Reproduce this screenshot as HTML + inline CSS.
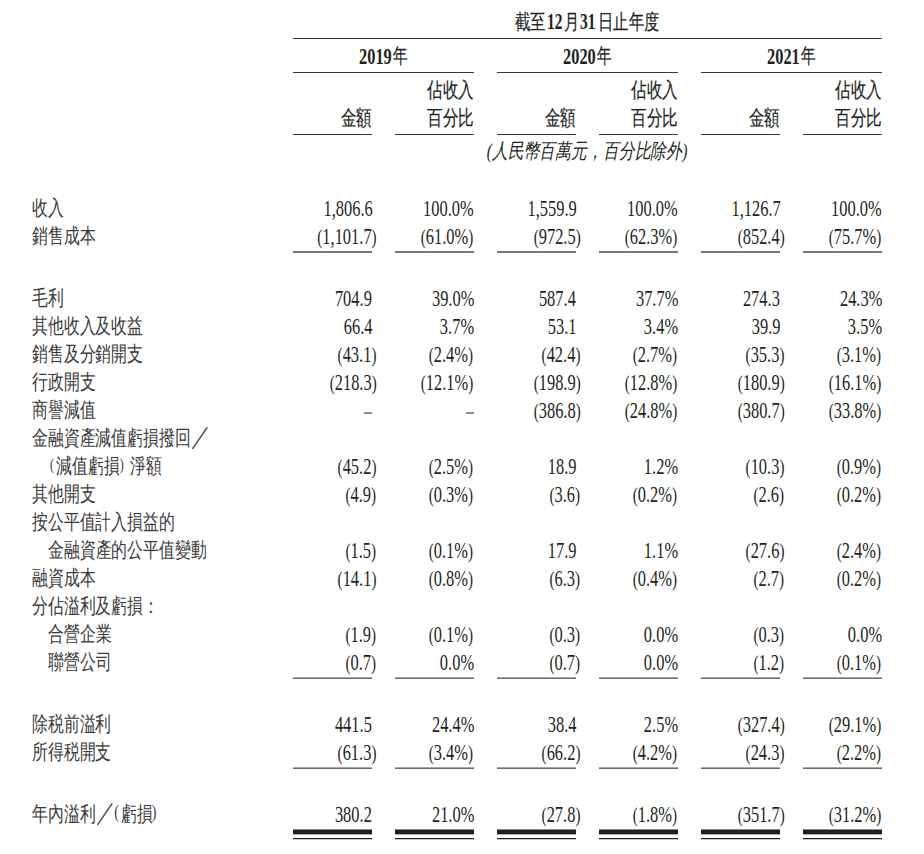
<!DOCTYPE html>
<html lang="zh-Hant"><head><meta charset="utf-8"><style>
html,body{margin:0;padding:0;background:#fff;width:924px;height:854px;overflow:hidden}
body{position:relative;font-family:"Liberation Serif",serif;color:#231f20}
.t{position:absolute;white-space:nowrap;line-height:24px}
.b{font-weight:bold}
.np{font-size:20.8px;line-height:0}
.lab{color:#3c393a}
.hs{-webkit-text-stroke:0.2px #231f20}
.it{font-style:italic}
.pp{font-size:16px;position:relative;top:-3.6px}
.sl{font-size:26px;line-height:0;position:relative;top:-0.5px;margin-left:0.9px;margin-right:-2px}
.pq{font-size:18.5px;line-height:0;position:relative;top:-2.9px}
i{position:absolute;display:block}
</style></head><body>
<div class="t hs" style="left:515.00px;top:10.28px;font-size:20.8px;transform:scaleX(0.73);transform-origin:left top">截至</div>
<div class="t b" style="left:547.30px;top:10.27px;font-size:22.6px;transform:scaleX(0.685);transform-origin:left top">12</div>
<div class="t hs" style="left:564.00px;top:10.28px;font-size:20.8px;transform:scaleX(0.73);transform-origin:left top">月</div>
<div class="t b" style="left:579.80px;top:10.27px;font-size:22.6px;transform:scaleX(0.685);transform-origin:left top">31</div>
<div class="t hs" style="left:598.20px;top:10.28px;font-size:20.8px;transform:scaleX(0.73);transform-origin:left top">日止年度</div>
<i style="left:293px;width:589px;top:38px;height:1px;background:#3a3536"></i>
<div class="t b" style="left:358.60px;top:44.87px;font-size:22.6px;transform:scaleX(0.725);transform-origin:left top">2019</div>
<div class="t hs" style="left:392.60px;top:44.08px;font-size:20.8px;transform:scaleX(0.69);transform-origin:left top">年</div>
<i style="left:293px;width:181px;top:72px;height:1px;background:#3a3536"></i>
<div class="t hs" style="right:552.00px;top:105.98px;font-size:20.8px;transform:scaleX(0.74);transform-origin:right top">金額</div>
<div class="t hs" style="right:450.00px;top:77.98px;font-size:20.8px;transform:scaleX(0.74);transform-origin:right top">佔收入</div>
<div class="t hs" style="right:450.00px;top:105.98px;font-size:20.8px;transform:scaleX(0.74);transform-origin:right top">百分比</div>
<i style="left:293px;width:79px;top:134px;height:1px;background:#3a3536"></i>
<i style="left:395px;width:79px;top:134px;height:1px;background:#3a3536"></i>
<div class="t b" style="left:562.60px;top:44.87px;font-size:22.6px;transform:scaleX(0.725);transform-origin:left top">2020</div>
<div class="t hs" style="left:596.60px;top:44.08px;font-size:20.8px;transform:scaleX(0.69);transform-origin:left top">年</div>
<i style="left:497px;width:181px;top:72px;height:1px;background:#3a3536"></i>
<div class="t hs" style="right:348.00px;top:105.98px;font-size:20.8px;transform:scaleX(0.74);transform-origin:right top">金額</div>
<div class="t hs" style="right:246.00px;top:77.98px;font-size:20.8px;transform:scaleX(0.74);transform-origin:right top">佔收入</div>
<div class="t hs" style="right:246.00px;top:105.98px;font-size:20.8px;transform:scaleX(0.74);transform-origin:right top">百分比</div>
<i style="left:497px;width:79px;top:134px;height:1px;background:#3a3536"></i>
<i style="left:599px;width:79px;top:134px;height:1px;background:#3a3536"></i>
<div class="t b" style="left:766.60px;top:44.87px;font-size:22.6px;transform:scaleX(0.725);transform-origin:left top">2021</div>
<div class="t hs" style="left:800.60px;top:44.08px;font-size:20.8px;transform:scaleX(0.69);transform-origin:left top">年</div>
<i style="left:701px;width:181px;top:72px;height:1px;background:#3a3536"></i>
<div class="t hs" style="right:144.00px;top:105.98px;font-size:20.8px;transform:scaleX(0.74);transform-origin:right top">金額</div>
<div class="t hs" style="right:42.00px;top:77.98px;font-size:20.8px;transform:scaleX(0.74);transform-origin:right top">佔收入</div>
<div class="t hs" style="right:42.00px;top:105.98px;font-size:20.8px;transform:scaleX(0.74);transform-origin:right top">百分比</div>
<i style="left:701px;width:79px;top:134px;height:1px;background:#3a3536"></i>
<i style="left:803px;width:79px;top:134px;height:1px;background:#3a3536"></i>
<div class="t it" style="left:586.50px;top:138.98px;font-size:20.8px;transform:translateX(-50%) scaleX(0.755);transform-origin:center top">(人民幣百萬元，百分比除外)</div>
<div class="t lab" style="left:32.00px;top:196.23px;font-size:20.8px;transform:scaleX(0.755);transform-origin:left top">收入</div>
<div class="t" style="right:551.70px;top:196.87px;font-size:22.6px;transform:scaleX(0.727);transform-origin:right top">1,806.6</div>
<div class="t" style="right:450.00px;top:196.87px;font-size:22.6px;transform:scaleX(0.727);transform-origin:right top">100.0%</div>
<div class="t" style="right:347.70px;top:196.87px;font-size:22.6px;transform:scaleX(0.727);transform-origin:right top">1,559.9</div>
<div class="t" style="right:246.00px;top:196.87px;font-size:22.6px;transform:scaleX(0.727);transform-origin:right top">100.0%</div>
<div class="t" style="right:143.70px;top:196.87px;font-size:22.6px;transform:scaleX(0.727);transform-origin:right top">1,126.7</div>
<div class="t" style="right:42.00px;top:196.87px;font-size:22.6px;transform:scaleX(0.727);transform-origin:right top">100.0%</div>
<div class="t lab" style="left:32.00px;top:224.23px;font-size:20.8px;transform:scaleX(0.755);transform-origin:left top">銷售成本</div>
<div class="t" style="right:547.50px;top:224.87px;font-size:22.6px;transform:scaleX(0.727);transform-origin:right top"><span class="np">(</span>1,101.7<span class="np">)</span></div>
<div class="t" style="right:450.70px;top:224.87px;font-size:22.6px;transform:scaleX(0.727);transform-origin:right top"><span class="np">(</span>61.0%<span class="np">)</span></div>
<div class="t" style="right:343.50px;top:224.87px;font-size:22.6px;transform:scaleX(0.727);transform-origin:right top"><span class="np">(</span>972.5<span class="np">)</span></div>
<div class="t" style="right:246.70px;top:224.87px;font-size:22.6px;transform:scaleX(0.727);transform-origin:right top"><span class="np">(</span>62.3%<span class="np">)</span></div>
<div class="t" style="right:139.50px;top:224.87px;font-size:22.6px;transform:scaleX(0.727);transform-origin:right top"><span class="np">(</span>852.4<span class="np">)</span></div>
<div class="t" style="right:42.70px;top:224.87px;font-size:22.6px;transform:scaleX(0.727);transform-origin:right top"><span class="np">(</span>75.7%<span class="np">)</span></div>
<div class="t lab" style="left:32.00px;top:286.23px;font-size:20.8px;transform:scaleX(0.755);transform-origin:left top">毛利</div>
<div class="t" style="right:551.70px;top:286.87px;font-size:22.6px;transform:scaleX(0.727);transform-origin:right top">704.9</div>
<div class="t" style="right:450.00px;top:286.87px;font-size:22.6px;transform:scaleX(0.727);transform-origin:right top">39.0%</div>
<div class="t" style="right:347.70px;top:286.87px;font-size:22.6px;transform:scaleX(0.727);transform-origin:right top">587.4</div>
<div class="t" style="right:246.00px;top:286.87px;font-size:22.6px;transform:scaleX(0.727);transform-origin:right top">37.7%</div>
<div class="t" style="right:143.70px;top:286.87px;font-size:22.6px;transform:scaleX(0.727);transform-origin:right top">274.3</div>
<div class="t" style="right:42.00px;top:286.87px;font-size:22.6px;transform:scaleX(0.727);transform-origin:right top">24.3%</div>
<div class="t lab" style="left:32.00px;top:314.23px;font-size:20.8px;transform:scaleX(0.755);transform-origin:left top">其他收入及收益</div>
<div class="t" style="right:551.70px;top:314.87px;font-size:22.6px;transform:scaleX(0.727);transform-origin:right top">66.4</div>
<div class="t" style="right:450.00px;top:314.87px;font-size:22.6px;transform:scaleX(0.727);transform-origin:right top">3.7%</div>
<div class="t" style="right:347.70px;top:314.87px;font-size:22.6px;transform:scaleX(0.727);transform-origin:right top">53.1</div>
<div class="t" style="right:246.00px;top:314.87px;font-size:22.6px;transform:scaleX(0.727);transform-origin:right top">3.4%</div>
<div class="t" style="right:143.70px;top:314.87px;font-size:22.6px;transform:scaleX(0.727);transform-origin:right top">39.9</div>
<div class="t" style="right:42.00px;top:314.87px;font-size:22.6px;transform:scaleX(0.727);transform-origin:right top">3.5%</div>
<div class="t lab" style="left:32.00px;top:342.23px;font-size:20.8px;transform:scaleX(0.755);transform-origin:left top">銷售及分銷開支</div>
<div class="t" style="right:547.50px;top:342.87px;font-size:22.6px;transform:scaleX(0.727);transform-origin:right top"><span class="np">(</span>43.1<span class="np">)</span></div>
<div class="t" style="right:450.70px;top:342.87px;font-size:22.6px;transform:scaleX(0.727);transform-origin:right top"><span class="np">(</span>2.4%<span class="np">)</span></div>
<div class="t" style="right:343.50px;top:342.87px;font-size:22.6px;transform:scaleX(0.727);transform-origin:right top"><span class="np">(</span>42.4<span class="np">)</span></div>
<div class="t" style="right:246.70px;top:342.87px;font-size:22.6px;transform:scaleX(0.727);transform-origin:right top"><span class="np">(</span>2.7%<span class="np">)</span></div>
<div class="t" style="right:139.50px;top:342.87px;font-size:22.6px;transform:scaleX(0.727);transform-origin:right top"><span class="np">(</span>35.3<span class="np">)</span></div>
<div class="t" style="right:42.70px;top:342.87px;font-size:22.6px;transform:scaleX(0.727);transform-origin:right top"><span class="np">(</span>3.1%<span class="np">)</span></div>
<div class="t lab" style="left:32.00px;top:370.23px;font-size:20.8px;transform:scaleX(0.755);transform-origin:left top">行政開支</div>
<div class="t" style="right:547.50px;top:370.87px;font-size:22.6px;transform:scaleX(0.727);transform-origin:right top"><span class="np">(</span>218.3<span class="np">)</span></div>
<div class="t" style="right:450.70px;top:370.87px;font-size:22.6px;transform:scaleX(0.727);transform-origin:right top"><span class="np">(</span>12.1%<span class="np">)</span></div>
<div class="t" style="right:343.50px;top:370.87px;font-size:22.6px;transform:scaleX(0.727);transform-origin:right top"><span class="np">(</span>198.9<span class="np">)</span></div>
<div class="t" style="right:246.70px;top:370.87px;font-size:22.6px;transform:scaleX(0.727);transform-origin:right top"><span class="np">(</span>12.8%<span class="np">)</span></div>
<div class="t" style="right:139.50px;top:370.87px;font-size:22.6px;transform:scaleX(0.727);transform-origin:right top"><span class="np">(</span>180.9<span class="np">)</span></div>
<div class="t" style="right:42.70px;top:370.87px;font-size:22.6px;transform:scaleX(0.727);transform-origin:right top"><span class="np">(</span>16.1%<span class="np">)</span></div>
<div class="t lab" style="left:32.00px;top:398.23px;font-size:20.8px;transform:scaleX(0.755);transform-origin:left top">商譽減值</div>
<i style="left:364px;width:8px;top:412px;height:2px;background:#8f8c8d"></i>
<i style="left:466px;width:8px;top:412px;height:2px;background:#8f8c8d"></i>
<div class="t" style="right:343.50px;top:398.87px;font-size:22.6px;transform:scaleX(0.727);transform-origin:right top"><span class="np">(</span>386.8<span class="np">)</span></div>
<div class="t" style="right:246.70px;top:398.87px;font-size:22.6px;transform:scaleX(0.727);transform-origin:right top"><span class="np">(</span>24.8%<span class="np">)</span></div>
<div class="t" style="right:139.50px;top:398.87px;font-size:22.6px;transform:scaleX(0.727);transform-origin:right top"><span class="np">(</span>380.7<span class="np">)</span></div>
<div class="t" style="right:42.70px;top:398.87px;font-size:22.6px;transform:scaleX(0.727);transform-origin:right top"><span class="np">(</span>33.8%<span class="np">)</span></div>
<div class="t lab" style="left:32.00px;top:426.23px;font-size:20.8px;transform:scaleX(0.755);transform-origin:left top">金融資產減值虧損撥回<span class="sl">／</span></div>
<div class="t lab" style="left:48.00px;top:454.23px;font-size:20.8px;transform:scaleX(0.755);transform-origin:left top"><span class="pp" style="margin-left:2.8px">(</span><span style="margin-left:2.6px">減值虧損</span><span class="pp" style="margin-left:0.3px">)</span><span style="margin-left:7.8px">淨額</span></div>
<div class="t" style="right:547.50px;top:454.87px;font-size:22.6px;transform:scaleX(0.727);transform-origin:right top"><span class="np">(</span>45.2<span class="np">)</span></div>
<div class="t" style="right:450.70px;top:454.87px;font-size:22.6px;transform:scaleX(0.727);transform-origin:right top"><span class="np">(</span>2.5%<span class="np">)</span></div>
<div class="t" style="right:347.70px;top:454.87px;font-size:22.6px;transform:scaleX(0.727);transform-origin:right top">18.9</div>
<div class="t" style="right:246.00px;top:454.87px;font-size:22.6px;transform:scaleX(0.727);transform-origin:right top">1.2%</div>
<div class="t" style="right:139.50px;top:454.87px;font-size:22.6px;transform:scaleX(0.727);transform-origin:right top"><span class="np">(</span>10.3<span class="np">)</span></div>
<div class="t" style="right:42.70px;top:454.87px;font-size:22.6px;transform:scaleX(0.727);transform-origin:right top"><span class="np">(</span>0.9%<span class="np">)</span></div>
<div class="t lab" style="left:32.00px;top:482.23px;font-size:20.8px;transform:scaleX(0.755);transform-origin:left top">其他開支</div>
<div class="t" style="right:547.50px;top:482.87px;font-size:22.6px;transform:scaleX(0.727);transform-origin:right top"><span class="np">(</span>4.9<span class="np">)</span></div>
<div class="t" style="right:450.70px;top:482.87px;font-size:22.6px;transform:scaleX(0.727);transform-origin:right top"><span class="np">(</span>0.3%<span class="np">)</span></div>
<div class="t" style="right:343.50px;top:482.87px;font-size:22.6px;transform:scaleX(0.727);transform-origin:right top"><span class="np">(</span>3.6<span class="np">)</span></div>
<div class="t" style="right:246.70px;top:482.87px;font-size:22.6px;transform:scaleX(0.727);transform-origin:right top"><span class="np">(</span>0.2%<span class="np">)</span></div>
<div class="t" style="right:139.50px;top:482.87px;font-size:22.6px;transform:scaleX(0.727);transform-origin:right top"><span class="np">(</span>2.6<span class="np">)</span></div>
<div class="t" style="right:42.70px;top:482.87px;font-size:22.6px;transform:scaleX(0.727);transform-origin:right top"><span class="np">(</span>0.2%<span class="np">)</span></div>
<div class="t lab" style="left:32.00px;top:510.23px;font-size:20.8px;transform:scaleX(0.755);transform-origin:left top">按公平值計入損益的</div>
<div class="t lab" style="left:48.00px;top:538.23px;font-size:20.8px;transform:scaleX(0.755);transform-origin:left top">金融資產的公平值變動</div>
<div class="t" style="right:547.50px;top:538.87px;font-size:22.6px;transform:scaleX(0.727);transform-origin:right top"><span class="np">(</span>1.5<span class="np">)</span></div>
<div class="t" style="right:450.70px;top:538.87px;font-size:22.6px;transform:scaleX(0.727);transform-origin:right top"><span class="np">(</span>0.1%<span class="np">)</span></div>
<div class="t" style="right:347.70px;top:538.87px;font-size:22.6px;transform:scaleX(0.727);transform-origin:right top">17.9</div>
<div class="t" style="right:246.00px;top:538.87px;font-size:22.6px;transform:scaleX(0.727);transform-origin:right top">1.1%</div>
<div class="t" style="right:139.50px;top:538.87px;font-size:22.6px;transform:scaleX(0.727);transform-origin:right top"><span class="np">(</span>27.6<span class="np">)</span></div>
<div class="t" style="right:42.70px;top:538.87px;font-size:22.6px;transform:scaleX(0.727);transform-origin:right top"><span class="np">(</span>2.4%<span class="np">)</span></div>
<div class="t lab" style="left:32.00px;top:566.23px;font-size:20.8px;transform:scaleX(0.755);transform-origin:left top">融資成本</div>
<div class="t" style="right:547.50px;top:566.87px;font-size:22.6px;transform:scaleX(0.727);transform-origin:right top"><span class="np">(</span>14.1<span class="np">)</span></div>
<div class="t" style="right:450.70px;top:566.87px;font-size:22.6px;transform:scaleX(0.727);transform-origin:right top"><span class="np">(</span>0.8%<span class="np">)</span></div>
<div class="t" style="right:343.50px;top:566.87px;font-size:22.6px;transform:scaleX(0.727);transform-origin:right top"><span class="np">(</span>6.3<span class="np">)</span></div>
<div class="t" style="right:246.70px;top:566.87px;font-size:22.6px;transform:scaleX(0.727);transform-origin:right top"><span class="np">(</span>0.4%<span class="np">)</span></div>
<div class="t" style="right:139.50px;top:566.87px;font-size:22.6px;transform:scaleX(0.727);transform-origin:right top"><span class="np">(</span>2.7<span class="np">)</span></div>
<div class="t" style="right:42.70px;top:566.87px;font-size:22.6px;transform:scaleX(0.727);transform-origin:right top"><span class="np">(</span>0.2%<span class="np">)</span></div>
<div class="t lab" style="left:32.00px;top:594.23px;font-size:20.8px;transform:scaleX(0.755);transform-origin:left top">分佔溢利及虧損：</div>
<div class="t lab" style="left:48.00px;top:622.23px;font-size:20.8px;transform:scaleX(0.755);transform-origin:left top">合營企業</div>
<div class="t" style="right:547.50px;top:622.87px;font-size:22.6px;transform:scaleX(0.727);transform-origin:right top"><span class="np">(</span>1.9<span class="np">)</span></div>
<div class="t" style="right:450.70px;top:622.87px;font-size:22.6px;transform:scaleX(0.727);transform-origin:right top"><span class="np">(</span>0.1%<span class="np">)</span></div>
<div class="t" style="right:343.50px;top:622.87px;font-size:22.6px;transform:scaleX(0.727);transform-origin:right top"><span class="np">(</span>0.3<span class="np">)</span></div>
<div class="t" style="right:246.00px;top:622.87px;font-size:22.6px;transform:scaleX(0.727);transform-origin:right top">0.0%</div>
<div class="t" style="right:139.50px;top:622.87px;font-size:22.6px;transform:scaleX(0.727);transform-origin:right top"><span class="np">(</span>0.3<span class="np">)</span></div>
<div class="t" style="right:42.00px;top:622.87px;font-size:22.6px;transform:scaleX(0.727);transform-origin:right top">0.0%</div>
<div class="t lab" style="left:48.00px;top:650.23px;font-size:20.8px;transform:scaleX(0.755);transform-origin:left top">聯營公司</div>
<div class="t" style="right:547.50px;top:650.87px;font-size:22.6px;transform:scaleX(0.727);transform-origin:right top"><span class="np">(</span>0.7<span class="np">)</span></div>
<div class="t" style="right:450.00px;top:650.87px;font-size:22.6px;transform:scaleX(0.727);transform-origin:right top">0.0%</div>
<div class="t" style="right:343.50px;top:650.87px;font-size:22.6px;transform:scaleX(0.727);transform-origin:right top"><span class="np">(</span>0.7<span class="np">)</span></div>
<div class="t" style="right:246.00px;top:650.87px;font-size:22.6px;transform:scaleX(0.727);transform-origin:right top">0.0%</div>
<div class="t" style="right:139.50px;top:650.87px;font-size:22.6px;transform:scaleX(0.727);transform-origin:right top"><span class="np">(</span>1.2<span class="np">)</span></div>
<div class="t" style="right:42.70px;top:650.87px;font-size:22.6px;transform:scaleX(0.727);transform-origin:right top"><span class="np">(</span>0.1%<span class="np">)</span></div>
<div class="t lab" style="left:32.00px;top:712.23px;font-size:20.8px;transform:scaleX(0.755);transform-origin:left top">除税前溢利</div>
<div class="t" style="right:551.70px;top:712.87px;font-size:22.6px;transform:scaleX(0.727);transform-origin:right top">441.5</div>
<div class="t" style="right:450.00px;top:712.87px;font-size:22.6px;transform:scaleX(0.727);transform-origin:right top">24.4%</div>
<div class="t" style="right:347.70px;top:712.87px;font-size:22.6px;transform:scaleX(0.727);transform-origin:right top">38.4</div>
<div class="t" style="right:246.00px;top:712.87px;font-size:22.6px;transform:scaleX(0.727);transform-origin:right top">2.5%</div>
<div class="t" style="right:139.50px;top:712.87px;font-size:22.6px;transform:scaleX(0.727);transform-origin:right top"><span class="np">(</span>327.4<span class="np">)</span></div>
<div class="t" style="right:42.70px;top:712.87px;font-size:22.6px;transform:scaleX(0.727);transform-origin:right top"><span class="np">(</span>29.1%<span class="np">)</span></div>
<div class="t lab" style="left:32.00px;top:740.23px;font-size:20.8px;transform:scaleX(0.755);transform-origin:left top">所得税開支</div>
<div class="t" style="right:547.50px;top:740.87px;font-size:22.6px;transform:scaleX(0.727);transform-origin:right top"><span class="np">(</span>61.3<span class="np">)</span></div>
<div class="t" style="right:450.70px;top:740.87px;font-size:22.6px;transform:scaleX(0.727);transform-origin:right top"><span class="np">(</span>3.4%<span class="np">)</span></div>
<div class="t" style="right:343.50px;top:740.87px;font-size:22.6px;transform:scaleX(0.727);transform-origin:right top"><span class="np">(</span>66.2<span class="np">)</span></div>
<div class="t" style="right:246.70px;top:740.87px;font-size:22.6px;transform:scaleX(0.727);transform-origin:right top"><span class="np">(</span>4.2%<span class="np">)</span></div>
<div class="t" style="right:139.50px;top:740.87px;font-size:22.6px;transform:scaleX(0.727);transform-origin:right top"><span class="np">(</span>24.3<span class="np">)</span></div>
<div class="t" style="right:42.70px;top:740.87px;font-size:22.6px;transform:scaleX(0.727);transform-origin:right top"><span class="np">(</span>2.2%<span class="np">)</span></div>
<div class="t lab" style="left:32.00px;top:802.23px;font-size:20.8px;transform:scaleX(0.755);transform-origin:left top">年內溢利<span class="sl">／</span><span class="pq">(</span><span style="margin-left:3px">虧損</span><span class="pq" style="margin-left:-1.4px">)</span></div>
<div class="t" style="right:551.70px;top:802.87px;font-size:22.6px;transform:scaleX(0.727);transform-origin:right top">380.2</div>
<div class="t" style="right:450.00px;top:802.87px;font-size:22.6px;transform:scaleX(0.727);transform-origin:right top">21.0%</div>
<div class="t" style="right:343.50px;top:802.87px;font-size:22.6px;transform:scaleX(0.727);transform-origin:right top"><span class="np">(</span>27.8<span class="np">)</span></div>
<div class="t" style="right:246.70px;top:802.87px;font-size:22.6px;transform:scaleX(0.727);transform-origin:right top"><span class="np">(</span>1.8%<span class="np">)</span></div>
<div class="t" style="right:139.50px;top:802.87px;font-size:22.6px;transform:scaleX(0.727);transform-origin:right top"><span class="np">(</span>351.7<span class="np">)</span></div>
<div class="t" style="right:42.70px;top:802.87px;font-size:22.6px;transform:scaleX(0.727);transform-origin:right top"><span class="np">(</span>31.2%<span class="np">)</span></div>
<i style="left:293px;width:79px;top:251px;height:2px;background:#7a7778"></i>
<i style="left:395px;width:79px;top:251px;height:2px;background:#7a7778"></i>
<i style="left:497px;width:79px;top:251px;height:2px;background:#7a7778"></i>
<i style="left:599px;width:79px;top:251px;height:2px;background:#7a7778"></i>
<i style="left:701px;width:79px;top:251px;height:2px;background:#7a7778"></i>
<i style="left:803px;width:79px;top:251px;height:2px;background:#7a7778"></i>
<i style="left:293px;width:79px;top:677px;height:1px;background:#a9a6a7"></i>
<i style="left:293px;width:79px;top:678px;height:1px;background:#6e6b6c"></i>
<i style="left:395px;width:79px;top:677px;height:1px;background:#a9a6a7"></i>
<i style="left:395px;width:79px;top:678px;height:1px;background:#6e6b6c"></i>
<i style="left:497px;width:79px;top:677px;height:1px;background:#a9a6a7"></i>
<i style="left:497px;width:79px;top:678px;height:1px;background:#6e6b6c"></i>
<i style="left:599px;width:79px;top:677px;height:1px;background:#a9a6a7"></i>
<i style="left:599px;width:79px;top:678px;height:1px;background:#6e6b6c"></i>
<i style="left:701px;width:79px;top:677px;height:1px;background:#a9a6a7"></i>
<i style="left:701px;width:79px;top:678px;height:1px;background:#6e6b6c"></i>
<i style="left:803px;width:79px;top:677px;height:1px;background:#a9a6a7"></i>
<i style="left:803px;width:79px;top:678px;height:1px;background:#6e6b6c"></i>
<i style="left:293px;width:79px;top:767px;height:1px;background:#a9a6a7"></i>
<i style="left:293px;width:79px;top:768px;height:1px;background:#6a6768"></i>
<i style="left:395px;width:79px;top:767px;height:1px;background:#a9a6a7"></i>
<i style="left:395px;width:79px;top:768px;height:1px;background:#6a6768"></i>
<i style="left:497px;width:79px;top:767px;height:1px;background:#a9a6a7"></i>
<i style="left:497px;width:79px;top:768px;height:1px;background:#6a6768"></i>
<i style="left:599px;width:79px;top:767px;height:1px;background:#a9a6a7"></i>
<i style="left:599px;width:79px;top:768px;height:1px;background:#6a6768"></i>
<i style="left:701px;width:79px;top:767px;height:1px;background:#a9a6a7"></i>
<i style="left:701px;width:79px;top:768px;height:1px;background:#6a6768"></i>
<i style="left:803px;width:79px;top:767px;height:1px;background:#a9a6a7"></i>
<i style="left:803px;width:79px;top:768px;height:1px;background:#6a6768"></i>
<i style="left:293px;width:79px;top:829px;height:1px;background:#8a8788"></i>
<i style="left:293px;width:79px;top:830px;height:4px;background:#231f20"></i>
<i style="left:293px;width:79px;top:834px;height:1px;background:#b0adae"></i>
<i style="left:293px;width:79px;top:838px;height:1px;background:#231f20"></i>
<i style="left:293px;width:79px;top:839px;height:1px;background:#c8c6c6"></i>
<i style="left:395px;width:79px;top:829px;height:1px;background:#8a8788"></i>
<i style="left:395px;width:79px;top:830px;height:4px;background:#231f20"></i>
<i style="left:395px;width:79px;top:834px;height:1px;background:#b0adae"></i>
<i style="left:395px;width:79px;top:838px;height:1px;background:#231f20"></i>
<i style="left:395px;width:79px;top:839px;height:1px;background:#c8c6c6"></i>
<i style="left:497px;width:79px;top:829px;height:1px;background:#8a8788"></i>
<i style="left:497px;width:79px;top:830px;height:4px;background:#231f20"></i>
<i style="left:497px;width:79px;top:834px;height:1px;background:#b0adae"></i>
<i style="left:497px;width:79px;top:838px;height:1px;background:#231f20"></i>
<i style="left:497px;width:79px;top:839px;height:1px;background:#c8c6c6"></i>
<i style="left:599px;width:79px;top:829px;height:1px;background:#8a8788"></i>
<i style="left:599px;width:79px;top:830px;height:4px;background:#231f20"></i>
<i style="left:599px;width:79px;top:834px;height:1px;background:#b0adae"></i>
<i style="left:599px;width:79px;top:838px;height:1px;background:#231f20"></i>
<i style="left:599px;width:79px;top:839px;height:1px;background:#c8c6c6"></i>
<i style="left:701px;width:79px;top:829px;height:1px;background:#8a8788"></i>
<i style="left:701px;width:79px;top:830px;height:4px;background:#231f20"></i>
<i style="left:701px;width:79px;top:834px;height:1px;background:#b0adae"></i>
<i style="left:701px;width:79px;top:838px;height:1px;background:#231f20"></i>
<i style="left:701px;width:79px;top:839px;height:1px;background:#c8c6c6"></i>
<i style="left:803px;width:79px;top:829px;height:1px;background:#8a8788"></i>
<i style="left:803px;width:79px;top:830px;height:4px;background:#231f20"></i>
<i style="left:803px;width:79px;top:834px;height:1px;background:#b0adae"></i>
<i style="left:803px;width:79px;top:838px;height:1px;background:#231f20"></i>
<i style="left:803px;width:79px;top:839px;height:1px;background:#c8c6c6"></i>
</body></html>
